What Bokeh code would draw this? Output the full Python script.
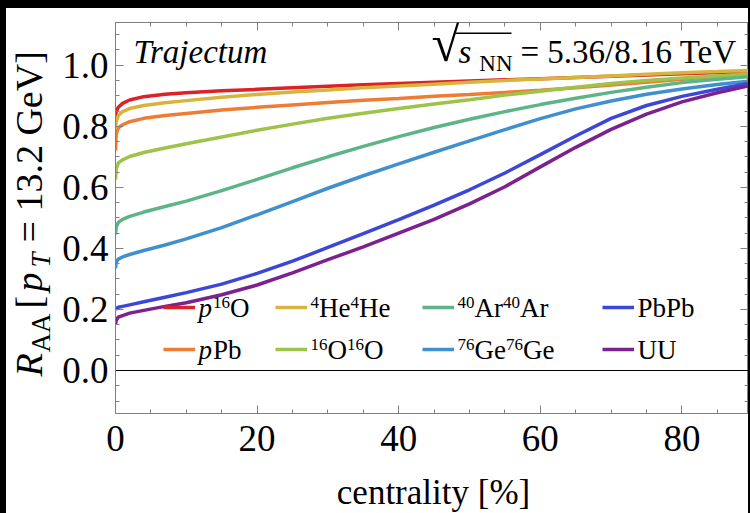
from bokeh.plotting import figure
from bokeh.models import (Range1d, SingleIntervalTicker, PrintfTickFormatter, LinearAxis,
                          Span, Label, Legend, LegendItem, BoxAnnotation, Spacer,
                          CustomJSTickFormatter)
from bokeh.layouts import column, row
from bokeh.embed import file_html
from bokeh.resources import INLINE

# centrality (%) sampling points
centrality = [0, 0.1, 0.4, 1, 2, 4, 7, 10, 15, 20, 25, 30, 35, 40, 45, 50, 55, 60,
              65, 70, 75, 80, 85, 89.4]

# nuclear modification factor R_AA at pT = 13.2 GeV for each system
raa_pO = [0.830, 0.850, 0.862, 0.875, 0.886, 0.897, 0.905, 0.910, 0.916, 0.921, 0.926, 0.931,
          0.936, 0.940, 0.944, 0.948, 0.952, 0.956, 0.960, 0.964, 0.968, 0.972, 0.976, 0.979]
raa_pPb = [0.720, 0.775, 0.795, 0.805, 0.815, 0.826, 0.835, 0.842, 0.853, 0.862, 0.870, 0.878,
           0.885, 0.891, 0.898, 0.904, 0.911, 0.918, 0.926, 0.935, 0.944, 0.954, 0.964, 0.974]
raa_HeHe = [0.790, 0.815, 0.835, 0.848, 0.858, 0.868, 0.877, 0.884, 0.895, 0.904, 0.912, 0.919,
            0.926, 0.932, 0.938, 0.944, 0.950, 0.955, 0.960, 0.965, 0.970, 0.975, 0.979, 0.983]
raa_OO = [0.625, 0.660, 0.680, 0.690, 0.701, 0.714, 0.729, 0.743, 0.765, 0.787, 0.807, 0.826,
          0.843, 0.858, 0.873, 0.887, 0.902, 0.915, 0.928, 0.940, 0.950, 0.958, 0.965, 0.970]
raa_ArAr = [0.445, 0.470, 0.485, 0.495, 0.505, 0.519, 0.537, 0.555, 0.589, 0.626, 0.664, 0.700,
            0.734, 0.766, 0.796, 0.823, 0.848, 0.871, 0.892, 0.911, 0.928, 0.943, 0.954, 0.962]
raa_GeGe = [0.335, 0.355, 0.365, 0.372, 0.380, 0.393, 0.411, 0.431, 0.468, 0.510, 0.553, 0.597,
            0.638, 0.677, 0.715, 0.752, 0.789, 0.825, 0.857, 0.883, 0.905, 0.922, 0.937, 0.948]
raa_PbPb = [0.198, 0.203, 0.207, 0.210, 0.215, 0.225, 0.240, 0.255, 0.283, 0.318, 0.358, 0.403,
            0.448, 0.494, 0.542, 0.592, 0.647, 0.707, 0.768, 0.826, 0.868, 0.898, 0.921, 0.940]
raa_UU = [0.150, 0.165, 0.175, 0.180, 0.188, 0.197, 0.210, 0.222, 0.248, 0.280, 0.320, 0.363,
          0.405, 0.450, 0.495, 0.546, 0.602, 0.667, 0.731, 0.790, 0.840, 0.880, 0.910, 0.932]

series = [raa_pO, raa_pPb, raa_HeHe, raa_OO, raa_ArAr, raa_GeGe, raa_PbPb, raa_UU]
colors = ["#dc2127", "#ee7d33", "#d9b43c", "#9dc34b", "#5db587", "#4090d0", "#3c47d8", "#7c2190"]

# legend entries: (italic prefix, superscript, text, superscript, text)
legend_parts = [
    ("p", "16", "O", "", ""),
    ("p", "", "Pb", "", ""),
    ("", "4", "He", "4", "He"),
    ("", "16", "O", "16", "O"),
    ("", "40", "Ar", "40", "Ar"),
    ("", "76", "Ge", "76", "Ge"),
    ("", "", "PbPb", "", ""),
    ("", "", "UU", "", ""),
]

SERIF = "Liberation Serif"
GRAY = "#808080"
MAIN_PX = 27      # legend font size
SUP_PX = 17       # legend superscript size


def tw(text, size):
    """Rough advance width of a Times-like string."""
    w = {"p": .5, "O": .722, "P": .556, "b": .5, "H": .722, "e": .444, "A": .722, "r": .333,
         "G": .722, "U": .722}
    return sum(w.get(ch, .5) for ch in text) * size


p = figure(width=692, height=465, x_range=Range1d(0, 89.4), y_range=Range1d(-0.1408, 1.1399),
           output_backend="svg", toolbar_location=None,
           min_border_left=59, min_border_right=0, min_border_top=14, min_border_bottom=60,
           background_fill_color="white", border_fill_color="white",
           outline_line_color=GRAY, outline_line_width=1)
p.xgrid.visible = False
p.ygrid.visible = False


def style_axis(ax, labels=True):
    ax.axis_line_color = GRAY
    ax.major_tick_line_color = GRAY
    ax.minor_tick_line_color = GRAY
    ax.major_tick_in = 8
    ax.major_tick_out = 0
    ax.minor_tick_in = 4
    ax.minor_tick_out = 0
    ax.major_label_text_font = SERIF
    ax.major_label_text_color = "black"
    ax.major_label_text_font_size = "37px"
    if not labels:
        ax.formatter = CustomJSTickFormatter(code="return ''")
        ax.major_label_standoff = 0


xa = p.xaxis[0]
xa.ticker = SingleIntervalTicker(interval=20, num_minor_ticks=4)
style_axis(xa)
xa.major_label_standoff = 12

ya = p.yaxis[0]
ya.ticker = SingleIntervalTicker(interval=0.2, num_minor_ticks=4)
ya.formatter = PrintfTickFormatter(format="%.1f")
style_axis(ya)
ya.major_label_standoff = 7

# mirrored tick marks on the top and right edges of the frame
top_ax = LinearAxis(ticker=SingleIntervalTicker(interval=20, num_minor_ticks=4))
style_axis(top_ax, labels=False)
p.add_layout(top_ax, "above")
right_ax = LinearAxis(ticker=SingleIntervalTicker(interval=0.2, num_minor_ticks=4))
style_axis(right_ax, labels=False)
p.add_layout(right_ax, "right")

p.add_layout(Span(location=0, dimension="width", line_color="black", line_width=1))

renderers = [p.line(centrality, vals, line_color=col, line_width=3.5)
             for vals, col in zip(series, colors)]

# legend: 2 rows x 4 columns, one legend box per entry, text assembled from pieces
col_x = [48, 160, 307, 487]
row_y = [106, 64]
ITEM_H = 34
GLYPH_W = 32


def text_label(x, y, text, size, style="normal", align="left", baseline="middle", angle=0.0):
    return Label(x=x, y=y, x_units="screen", y_units="screen", text=text, angle=angle,
                 text_font=SERIF, text_font_size=f"{size}px", text_font_style=style,
                 text_align=align, text_baseline=baseline, text_color="black")


for i, (r, parts) in enumerate(zip(renderers, legend_parts)):
    c, rw = divmod(i, 2)
    gx = col_x[c]
    cy = row_y[rw]
    leg = Legend(items=[LegendItem(label=" ", renderers=[r])], location=(gx, cy - ITEM_H / 2),
                 glyph_width=GLYPH_W, glyph_height=ITEM_H, label_height=ITEM_H,
                 label_standoff=3, padding=0, margin=0, spacing=0,
                 background_fill_alpha=0, border_line_alpha=0,
                 label_text_font=SERIF, label_text_font_size=f"{MAIN_PX}px")
    p.add_layout(leg)
    x = gx + GLYPH_W + 3
    prefix, sup1, txt1, sup2, txt2 = parts
    if prefix:
        p.add_layout(text_label(x, cy, prefix, MAIN_PX, style="italic"))
        x += tw(prefix, MAIN_PX) + 1
    for sup, txt in ((sup1, txt1), (sup2, txt2)):
        if sup:
            p.add_layout(text_label(x, cy + 5, sup, SUP_PX))
            x += tw(sup, SUP_PX)
        if txt:
            p.add_layout(text_label(x, cy, txt, MAIN_PX))
            x += tw(txt, MAIN_PX)

# annotations inside the frame
p.add_layout(text_label(18, 362, "Trajectum", 33, style="italic", baseline="alphabetic"))
p.add_layout(text_label(316, 370, "√", 52, baseline="alphabetic"))
p.add_layout(BoxAnnotation(left=340, right=396, bottom=379.5, top=381,
                           left_units="screen", right_units="screen",
                           bottom_units="screen", top_units="screen",
                           fill_color="black", fill_alpha=1, line_alpha=0))
p.add_layout(text_label(343, 362, "s", 33, style="italic", baseline="alphabetic"))
p.add_layout(text_label(397, 350, "NN", 23, align="right", baseline="alphabetic"))
p.add_layout(text_label(405, 362, "= 5.36/8.16 TeV", 33, baseline="alphabetic"))

# rotated y-axis title, built from pieces (main text and subscripts)
ylab = figure(width=50, height=505, x_range=Range1d(0, 1), y_range=Range1d(0, 1),
              output_backend="svg", toolbar_location=None, title=None,
              x_axis_type=None, y_axis_type=None, min_border=0,
              background_fill_color="white", border_fill_color="white", outline_line_color=None)
ylab.grid.visible = False
ANG = 1.5707963
YB = 22.3
YS = 34.3
for txt, size, style, ypos, xpos in [
    ("R", 38, "italic", 137, YB),
    ("AA", 27, "normal", 161, YS),
    ("[", 38, "normal", 205, YB),
    ("p", 38, "italic", 222, YB),
    ("T", 27, "italic", 246, YS),
    ("= 13.2 GeV]", 38, "normal", 271, YB),
]:
    ylab.add_layout(text_label(xpos, ypos, txt, size, style=style, baseline="alphabetic", angle=ANG))

# x-axis title (its frame lines up with the main frame)
xlab = figure(width=692, height=40, x_range=Range1d(0, 1), y_range=Range1d(0, 1),
              output_backend="svg", toolbar_location=None, title=None,
              x_axis_type=None, y_axis_type=None, min_border=0,
              background_fill_color="white", border_fill_color="white", outline_line_color=None)
xlab.grid.visible = False
xlab.add_layout(text_label(318, 20.6, "centrality [%]", 35, align="center", baseline="alphabetic"))

bar_style = {"background-color": "black"}
layout = column(
    Spacer(width=750, height=8, styles=bar_style),
    row(Spacer(width=6, height=505, styles=bar_style), ylab, column(p, xlab, spacing=0),
        Spacer(width=2, height=505, styles=bar_style), spacing=0),
    spacing=0,
)

open("out.html", "w").write(file_html(layout, INLINE))
